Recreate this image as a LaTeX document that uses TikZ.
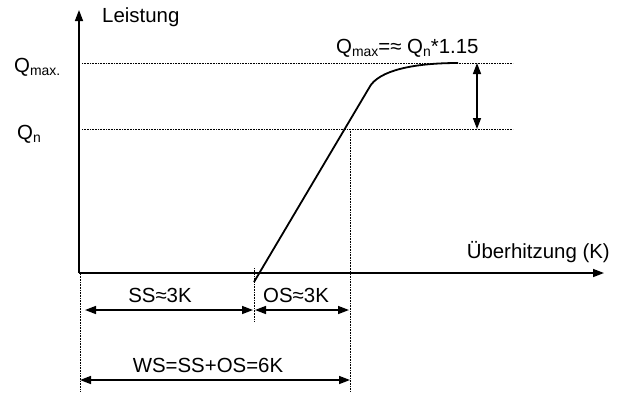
\documentclass[tikz,border=0pt]{standalone}
\usepackage{fontspec}
\setmainfont{Liberation Sans}
\usetikzlibrary{arrows.meta}
\newcommand{\subt}[1]{\raisebox{-0.3ex}{\fontsize{14}{14}\selectfont #1}}
\begin{document}
\begin{tikzpicture}[x=1bp,y=-1bp,
  lbl/.style={font=\fontsize{20.5}{22}\selectfont, inner sep=0pt},
  axis/.style={line width=1.5bp, -{Triangle[length=11bp,width=8bp]}},
  dim/.style={line width=1.5bp, {Triangle[length=11bp,width=8bp]}-{Triangle[length=11bp,width=8bp]}},
  guide/.style={densely dotted, line width=0.6bp},
  curve/.style={line width=1.8bp}]
\useasboundingbox (0,0) rectangle (617,392);
% coordinates
\coordinate (O) at (79,273);
\coordinate (ytip) at (79,10);
\coordinate (xtip) at (604,273);
\coordinate (qmaxL) at (82,63);
\coordinate (qmaxR) at (513,63);
\coordinate (qnL) at (82,129);
\coordinate (qnR) at (513,129);
\coordinate (vtop) at (350,129);
\coordinate (vbot) at (350,392);
\coordinate (lvtop) at (80,274);
\coordinate (lvbot) at (80,392);
\coordinate (mvtop) at (254,268);
\coordinate (mvbot) at (254,321);
\coordinate (c0) at (254,282);
\coordinate (c1) at (369,88);
\coordinate (c2) at (458,63);
\coordinate (da) at (477,63);
\coordinate (db) at (477,129);
\coordinate (ssL) at (85,310);
\coordinate (ssR) at (253,310);
\coordinate (osL) at (255,310);
\coordinate (osR) at (349,310);
\coordinate (wsL) at (80,380);
\coordinate (wsR) at (350,380);
% guides
\draw[guide] (qmaxL) -- (qmaxR);
\draw[guide] (qnL) -- (qnR);
\draw[guide] (vtop) -- (vbot);
\draw[guide] (lvtop) -- (lvbot);
\draw[guide] (mvtop) -- (mvbot);
% axes
\draw[axis] (O) -- (ytip);
\draw[axis] (O) -- (xtip);
% curve
\draw[curve] (c0) -- (c1) .. controls (378,70) and (415,63) .. (c2);
% dimension arrows
\draw[dim] (da) -- (db);
\draw[dim] (ssL) -- (ssR);
\draw[dim] (osL) -- (osR);
\draw[dim] (wsL) -- (wsR);
% labels
\node[lbl, anchor=base west] (leist) at (102,22) {Leistung};
\node[lbl, anchor=base west] (qmaxlbl) at (14,72) {Q\subt{max.}};
\node[lbl, anchor=base west] (qnlbl) at (17,139) {Q\subt{n}};
\node[lbl, anchor=base west] (formula) at (336,53) {Q\subt{max}=≈ Q\subt{n}*1.15};
\node[lbl, anchor=base east] (uber) at (610,258) {Überhitzung (K)};
\node[lbl, anchor=base] (ss) at (160,302) {SS≈3K};
\node[lbl, anchor=base west] (os) at (263,302) {OS≈3K};
\node[lbl, anchor=base] (ws) at (208,372) {WS=SS+OS=6K};
\end{tikzpicture}
\end{document}
